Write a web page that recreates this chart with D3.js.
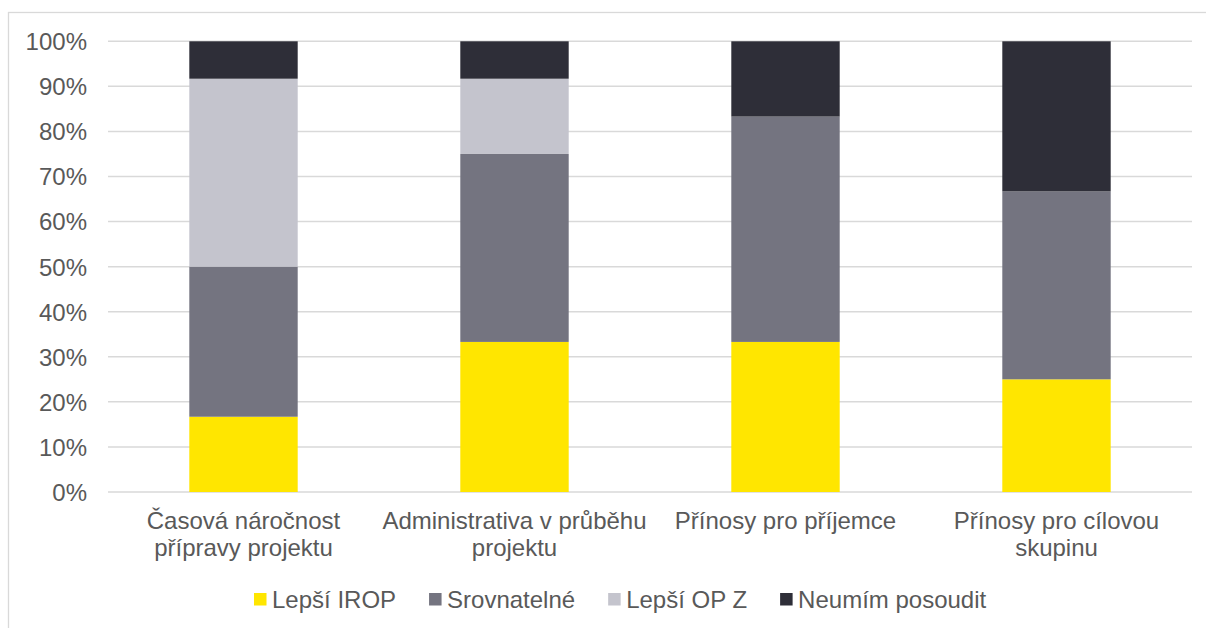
<!DOCTYPE html>
<html><head><meta charset="utf-8">
<script src="https://cdn.jsdelivr.net/npm/d3@7"></script>
<style>
html,body{margin:0;padding:0;background:#fff;}
svg{display:block;font-family:"Liberation Sans",Arial,sans-serif;}
</style></head>
<body>
<svg id="chart" width="1206" height="628"></svg>
<script>
const categories = [
  ["Časová náročnost", "přípravy projektu"],
  ["Administrativa v průběhu", "projektu"],
  ["Přínosy pro příjemce"],
  ["Přínosy pro cílovou", "skupinu"]
];
const seriesNames = ["Lepší IROP", "Srovnatelné", "Lepší OP Z", "Neumím posoudit"];
const lepsiIROP   = [16.7, 33.3, 33.3, 25.0];
const srovnatelne = [33.3, 41.7, 50.0, 41.7];
const lepsiOPZ    = [41.7, 16.7, 0.0, 0.0];
const neumim      = [8.3, 8.3, 16.7, 33.3];
const yTicks = [0, 10, 20, 30, 40, 50, 60, 70, 80, 90, 100];
const colors = ["#FFE600", "#747480", "#C4C4CD", "#2E2E38"];

const seriesValues = [lepsiIROP, srovnatelne, lepsiOPZ, neumim];
const rows = categories.map((c, i) => {
  const r = { key: i };
  seriesNames.forEach((s, j) => r[s] = seriesValues[j][i]);
  return r;
});

const svg = d3.select("#chart");
const textColor = "#595959";
const fontSize = 24;

// outer border
svg.append("rect").attr("x", 8.5).attr("y", 12.5).attr("width", 1300).attr("height", 700)
  .attr("fill", "none").attr("stroke", "#d9d9d9").attr("stroke-width", 1.3);

const x = d3.scaleBand().domain(d3.range(categories.length)).range([108, 1192])
  .paddingInner(0.6).paddingOuter(0.3);
const y = d3.scaleLinear().domain([0, 100]).range([492, 41.3]);

// gridlines
svg.append("g").selectAll("line").data(yTicks).join("line")
  .attr("x1", 108).attr("x2", 1192)
  .attr("y1", d => y(d)).attr("y2", d => y(d))
  .attr("stroke", "#d9d9d9").attr("stroke-width", 1.5);

// y axis labels
const yAxis = d3.axisLeft(y).tickValues(yTicks).tickFormat(d => d + "%").tickSize(0).tickPadding(0);
const gy = svg.append("g").attr("transform", "translate(87,0)").call(yAxis);
gy.select(".domain").remove();
gy.selectAll("text").attr("font-size", fontSize).attr("fill", textColor)
  .attr("font-family", "Liberation Sans, Arial, sans-serif").attr("dy", "0.35em");

// stacked bars
const stack = d3.stack().keys(seriesNames)(rows);
svg.append("g").selectAll("g").data(stack).join("g")
  .attr("fill", (d, i) => colors[i])
  .selectAll("rect").data(d => d).join("rect")
  .attr("x", (d, i) => x(i))
  .attr("width", x.bandwidth())
  .attr("y", d => y(d[1]))
  .attr("height", d => y(d[0]) - y(d[1]));

// category labels
const cg = svg.append("g");
categories.forEach((lines, i) => {
  const t = cg.append("text").attr("text-anchor", "middle")
    .attr("font-size", fontSize).attr("fill", textColor);
  lines.forEach((l, k) => {
    t.append("tspan").attr("x", x(i) + x.bandwidth() / 2).attr("y", 528.5 + k * 27).text(l);
  });
});

// legend
const lg = svg.append("g");
let lx = 254;
seriesNames.forEach((s, i) => {
  lg.append("rect").attr("x", lx).attr("y", 593).attr("width", 12.5).attr("height", 12.5).attr("fill", colors[i]);
  const t = lg.append("text").attr("x", lx + 18).attr("y", 607.5)
    .attr("font-size", fontSize).attr("fill", textColor).text(s);
  const w = t.node().getComputedTextLength();
  lx = lx + 18 + w + 33;
});
</script>
</body></html>
